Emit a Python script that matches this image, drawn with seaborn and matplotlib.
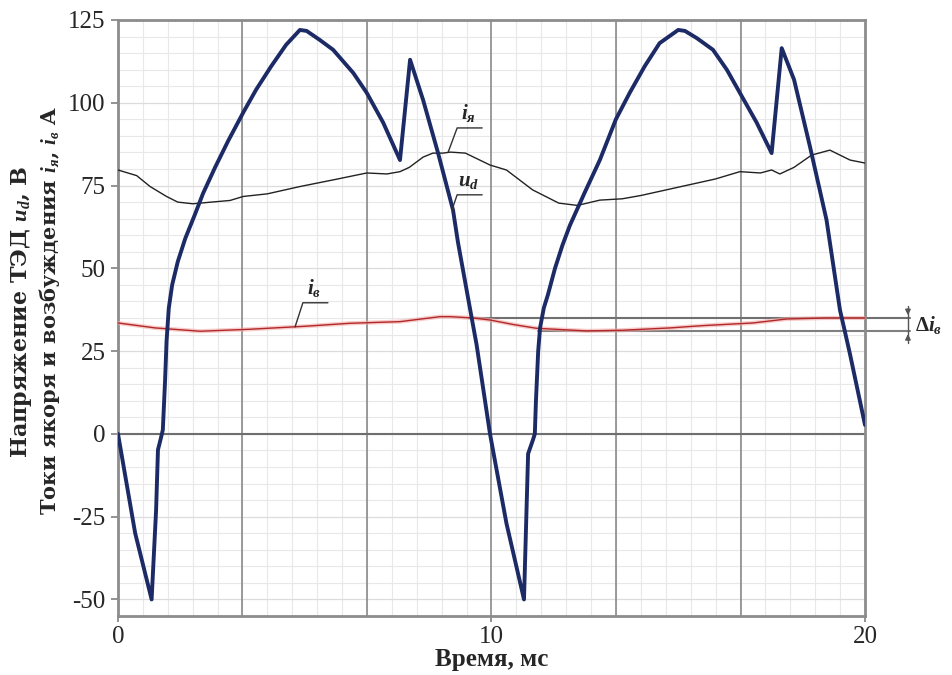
import numpy as np
import pandas as pd
import matplotlib
matplotlib.use("Agg")
import matplotlib.pyplot as plt
from matplotlib.ticker import MultipleLocator
import seaborn as sns

# ---- data (time in ms) ----
ud_t = [0.0, 0.46, 0.9, 1.02, 1.07, 1.15, 1.2, 1.26, 1.3, 1.36, 1.45, 1.6, 1.8, 2.05, 2.28, 2.6, 2.95, 3.35,
        3.7, 4.1, 4.5, 4.87, 5.05, 5.4, 5.76, 6.3, 6.66, 7.1, 7.55, 7.82, 8.17, 8.57, 8.97, 9.1, 9.47, 9.6,
        9.96, 10.4, 10.87, 10.98, 11.11, 11.16, 11.19, 11.25, 11.3, 11.4, 11.51, 11.7, 11.9, 12.1, 12.5,
        12.9, 13.33, 13.7, 14.1, 14.5, 15.0, 15.18, 15.5, 15.93, 16.3, 16.65, 17.1, 17.5, 17.77, 18.1,
        18.53, 18.97, 19.33, 19.46, 19.6, 20.0]
ud_v = [0.0, -30.0, -50.0, -23.0, -4.8, -1.2, 1.2, 16.0, 28.0, 38.0, 45.0, 52.0, 59.0, 66.0, 72.7, 80.5, 88.5, 97.0,
        104.0, 111.0, 117.5, 122.0, 121.7, 119.0, 116.0, 109.0, 103.0, 94.0, 82.7, 113.0, 100.8, 84.8, 67.6, 58.0, 35.0, 27.0,
        0.0, -27.0, -50.0, -6.0, -1.8, 0.0, 10.0, 25.0, 32.0, 38.0, 42.0, 50.0, 57.0, 63.0, 73.0,
        82.7, 95.0, 103.0, 111.0, 118.0, 122.0, 121.7, 119.5, 116.0, 110.0, 103.0, 94.0, 84.8, 116.5, 107.0,
        86.6, 64.6, 37.4, 31.0, 24.0, 2.7]

ia_t = [0.0, 0.5, 0.86, 1.3, 1.6, 2.0, 2.5, 3.0, 3.35, 4.0, 4.87, 5.8, 6.66, 7.2, 7.55, 7.8, 8.17, 8.43,
        8.7, 8.9, 9.3, 9.96, 10.4, 11.1, 11.8, 12.3, 12.9, 13.5, 14.0, 15.0, 16.0, 16.65, 17.2, 17.5,
        17.72, 18.1, 18.57, 19.06, 19.6, 20.0]
ia_v = [79.7, 78.0, 74.7, 71.7, 70.0, 69.5, 70.0, 70.5, 71.7, 72.5, 74.7, 76.8, 78.8, 78.5, 79.2, 80.5, 83.6, 84.8,
        84.8, 85.1, 84.8, 81.2, 79.7, 73.7, 69.7, 69.0, 70.6, 71.0, 72.0, 74.5, 77.0, 79.2, 78.8, 79.7,
        78.5, 80.5, 84.2, 85.7, 82.7, 81.8]

iv_t = [0.0, 1.0, 2.2, 3.53, 5.0, 6.2, 7.55, 8.62, 8.9, 9.5, 9.96, 10.6, 11.2, 12.55, 13.5, 14.78, 15.66,
        17.0, 17.9, 19.0, 20.0]
iv_v = [33.5, 32.0, 31.0, 31.6, 32.5, 33.4, 33.9, 35.4, 35.4, 35.0, 34.4, 33.0, 31.9, 31.1, 31.3, 32.0, 32.7,
        33.5, 34.7, 35.0, 35.0]

x_ticks = [0, 10, 20]
y_ticks = [-50, -25, 0, 25, 50, 75, 100, 125]
di_levels = [35.0, 31.0]

sns.set_theme(style="white")
plt.rcParams['font.family'] = ['Liberation Serif', 'DejaVu Serif']
plt.rcParams['axes.unicode_minus'] = False
plt.rcParams['mathtext.fontset'] = 'custom'
plt.rcParams['mathtext.rm'] = 'Liberation Serif:bold'
plt.rcParams['mathtext.it'] = 'Liberation Serif:italic:bold'
plt.rcParams['mathtext.bf'] = 'Liberation Serif:bold'

fig = plt.figure(figsize=(9.53, 6.75), dpi=100)
ax = fig.add_axes([118/953, 1-616/675, (865-118)/953, (616-20)/675])

# grids
ax.xaxis.set_minor_locator(MultipleLocator(2/3))
ax.yaxis.set_minor_locator(MultipleLocator(5))
ax.grid(which='minor', color='#e8e8e8', lw=0.8)
ax.grid(which='major', axis='y', color='#dcdcdc', lw=0.9)
for k in range(1, 6):
    ax.axvline(k * 10/3, color='#8a8a8a', lw=1.2, zorder=1)
ax.axhline(0, color='#6e6e6e', lw=1.5, zorder=1)

df_ud = pd.DataFrame({'t': ud_t, 'v': ud_v})
df_ia = pd.DataFrame({'t': ia_t, 'v': ia_v})
df_iv = pd.DataFrame({'t': iv_t, 'v': iv_v})

# delta lines
ax.plot([9.4, 21.2], [di_levels[0]]*2, color='#707070', lw=1.5, clip_on=False, zorder=2)
ax.plot([11.25, 21.2], [di_levels[1]]*2, color='#808080', lw=1.5, clip_on=False, zorder=2)

sns.lineplot(data=df_iv, x='t', y='v', ax=ax, color='#f4a8a8', lw=3.0, alpha=0.6, sort=False, estimator=None, zorder=3)
sns.lineplot(data=df_iv, x='t', y='v', ax=ax, color='#b02828', lw=1.0, sort=False, estimator=None, zorder=4)
sns.lineplot(data=df_ia, x='t', y='v', ax=ax, color='#222222', lw=1.0, sort=False, estimator=None, zorder=4)
sns.lineplot(data=df_ud, x='t', y='v', ax=ax, color='#1c2a66', lw=2.8, sort=False, estimator=None, zorder=5)

ax.set_xlim(0, 20)
ax.set_ylim(-55, 125)
ax.set_xticks(x_ticks)
ax.set_yticks(y_ticks)
ax.tick_params(which='major', axis='y', left=True, length=5, width=1.2, color='#808080', labelsize=18, pad=4)
ax.tick_params(which='major', axis='x', bottom=True, length=4, width=1.2, color='#808080', labelsize=18, pad=3)
ax.tick_params(which='minor', length=0)
for s in ax.spines.values():
    s.set_color('#8c8c8c')
    s.set_linewidth(2.0)

ax.set_ylabel('')
ax.set_xlabel('Время, мс', fontsize=18, fontweight='bold', labelpad=0)
fig.text(22/953, 1-312/675, 'Напряжение ТЭД $u_d$, В', rotation=90, ha='center', va='center',
         fontsize=16, fontweight='bold', family=['DejaVu Serif'])
fig.text(50/953, 1-310/675, 'Токи якоря и возбуждения $i_я$, $i_в$ A', rotation=90, ha='center', va='center',
         fontsize=15, fontweight='bold', family=['DejaVu Serif'])

lc = '#333333'
# i_я annotation
ax.plot([8.84, 9.08, 9.75], [85.1, 92.4, 92.4], color=lc, lw=1.0, zorder=6)
ax.text(9.38, 93.5, '$i_я$', fontsize=15, ha='center', va='bottom', zorder=6)
# u_d annotation
ax.plot([8.94, 9.08, 9.75], [67.6, 72.2, 72.2], color=lc, lw=1.0, zorder=6)
ax.text(9.38, 73.3, '$u_d$', fontsize=15, ha='center', va='bottom', zorder=6)
# i_в annotation
ax.plot([4.74, 4.95, 5.62], [32.3, 39.6, 39.6], color=lc, lw=1.0, zorder=6)
ax.text(5.25, 40.7, '$i_в$', fontsize=15, ha='center', va='bottom', zorder=6)

# delta arrow
ax.plot([21.15, 21.15], [27.5, 38.5], color='#555555', lw=1.0, clip_on=False)
ax.annotate('', xy=(21.15, di_levels[0]), xytext=(21.15, 38.5),
            arrowprops=dict(arrowstyle='-|>', color='#555555', lw=1.0, mutation_scale=8), annotation_clip=False)
ax.annotate('', xy=(21.15, di_levels[1]), xytext=(21.15, 27.5),
            arrowprops=dict(arrowstyle='-|>', color='#555555', lw=1.0, mutation_scale=8), annotation_clip=False)
ax.text(21.35, 33.0, r'$\mathrm{\Delta}i_в$', fontsize=15, ha='left', va='center', clip_on=False)

fig.savefig('out.png', dpi=100)
